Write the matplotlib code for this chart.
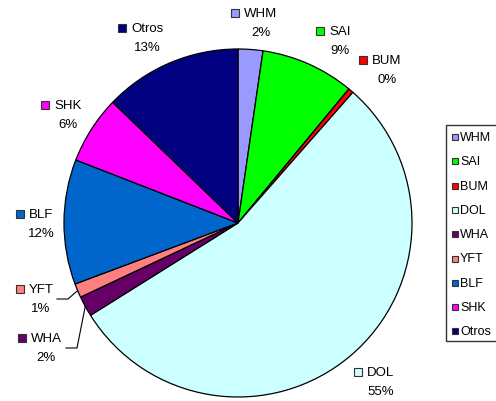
import matplotlib
matplotlib.use("Agg")
import matplotlib.pyplot as plt
from matplotlib.patches import Rectangle
import numpy as np

plt.rcParams['font.family'] = ['Liberation Sans', 'DejaVu Sans']

# shares (%), clockwise from 12 o'clock
species = ['WHM', 'SAI', 'BUM', 'DOL', 'WHA', 'YFT', 'BLF', 'SHK', 'Otros']
shares = [2.3, 8.7, 0.48, 54.62, 1.9, 1.3, 11.6, 6.3, 12.8]
pct_labels = ['2%', '9%', '0%', '55%', '2%', '1%', '12%', '6%', '13%']
colors = ['#9999FF', '#00FF00', '#FF0000', '#CCFFFF', '#660066',
          '#FF8080', '#0066CC', '#FF00FF', '#000080']

# layout (pixels, origin top-left): label name centres
W, H = 496, 402
cx, cy, rad = 238, 224, 174
label_pos = {
    'WHM': (261, 14), 'SAI': (340, 32), 'BUM': (387, 61), 'DOL': (381, 373),
    'WHA': (46, 339), 'YFT': (41, 290), 'BLF': (41, 215), 'SHK': (68, 106),
    'Otros': (147, 29),
}
leader = {'YFT': (57, 68, 300), 'WHA': (66, 77, 349)}

fig = plt.figure(figsize=(W / 100, H / 100), dpi=100)
ax = fig.add_axes([0, 0, 1, 1])

wedges, _ = ax.pie(shares, colors=colors, startangle=90, counterclock=False,
                   center=(cx, H - cy), radius=rad,
                   wedgeprops=dict(edgecolor='black', linewidth=0.9))
ax.set_xlim(0, W)
ax.set_ylim(0, H)
ax.set_aspect('equal')
ax.axis('off')

fs = 9.5
fig.canvas.draw()
rend = fig.canvas.get_renderer()
for name, pct, col, w in zip(species, pct_labels, colors, wedges):
    x, y = label_pos[name]
    t = ax.text(x, H - y, name, ha='center', va='center', fontsize=fs)
    ax.text(x, H - y - 19, pct, ha='center', va='center', fontsize=fs)
    bb = t.get_window_extent(renderer=rend)
    ax.plot(bb.x0 - 9, H - y, marker='s', ms=5.5, mfc=col, mec='#333333',
            mew=0.8, clip_on=False)
    if name in leader:
        x0, x1, ly = leader[name]
        mid = np.deg2rad((w.theta1 + w.theta2) / 2)
        ex = cx + rad * np.cos(mid)
        ey = (H - cy) + rad * np.sin(mid)
        ax.plot([x0, x1, ex], [H - ly, H - ly, ey], color='black', lw=0.8)

# legend box, right side clipped by the figure edge
lx, ltop, lbot = 446, 126, 342
ax.add_patch(Rectangle((lx, H - lbot), 80, lbot - ltop, fill=False,
                       edgecolor='#333333', lw=1.0, clip_on=False))
row0, step = 138, 24.3
for i, (name, col) in enumerate(zip(species, colors)):
    yy = H - (row0 + i * step)
    ax.plot(lx + 9, yy, marker='s', ms=4.8, mfc=col, mec='#333333', mew=0.8)
    ax.text(lx + 14, yy, name, ha='left', va='center', fontsize=9)

fig.savefig('out.png', dpi=100)
